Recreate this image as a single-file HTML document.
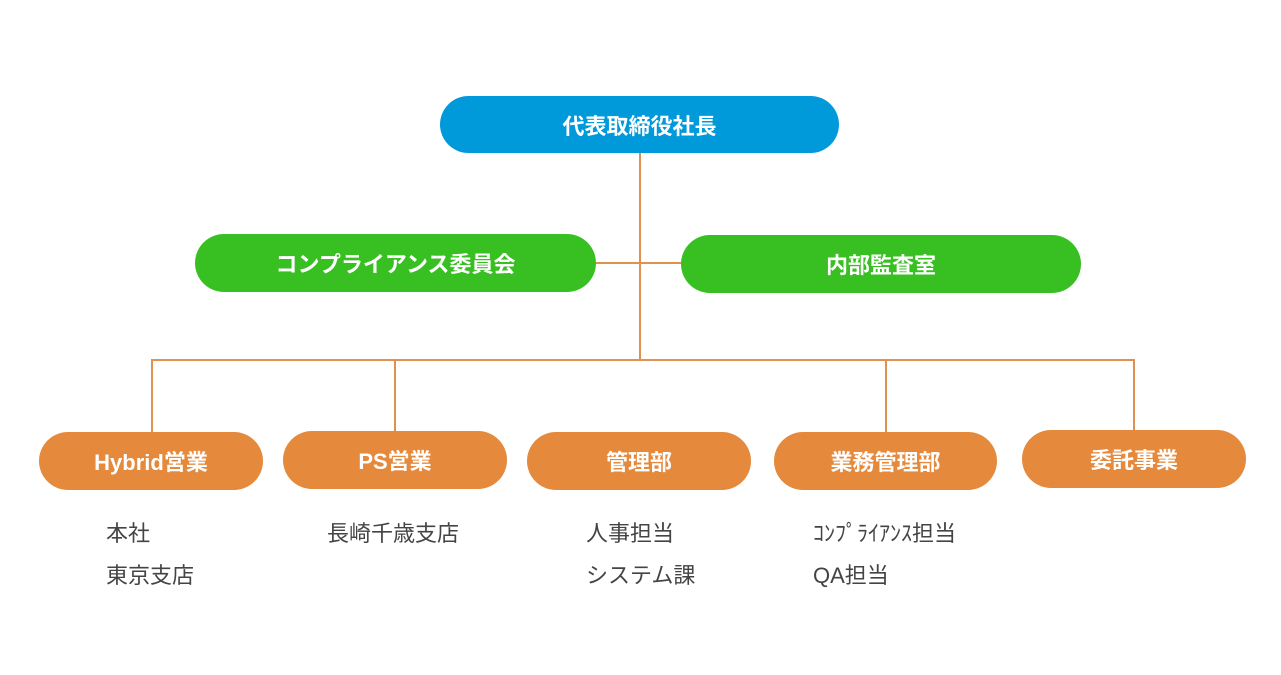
<!DOCTYPE html>
<html><head><meta charset="utf-8"><style>
body{margin:0;width:1281px;height:675px;background:#fff;position:relative;overflow:hidden;font-family:"Liberation Sans","Noto Sans CJK JP",sans-serif}
.b{position:absolute;border-radius:30px;color:#fff;font-weight:bold;font-size:22px;display:flex;align-items:center;justify-content:center}
.bl{background:#0099d9}.g{background:#38bf22}.o{background:#e58a3c}
.l{position:absolute;background:#e0914f}
.t{position:absolute;color:#444;font-size:22px;line-height:42px}
</style></head><body>
<div class="l" style="left:639px;top:150px;width:2px;height:211px"></div>
<div class="l" style="left:594px;top:262px;width:90px;height:2px"></div>
<div class="l" style="left:151px;top:359px;width:984px;height:2px"></div>
<div class="l" style="left:151px;top:359px;width:2px;height:76px"></div>
<div class="l" style="left:394px;top:359px;width:2px;height:75px"></div>
<div class="l" style="left:885px;top:359px;width:2px;height:76px"></div>
<div class="l" style="left:1133px;top:359px;width:2px;height:74px"></div>
<div class="b bl" style="left:440px;top:96px;width:399px;height:57px">代表取締役社長</div>
<div class="b g" style="left:195px;top:234px;width:401px;height:58px">コンプライアンス委員会</div>
<div class="b g" style="left:681px;top:235px;width:400px;height:58px">内部監査室</div>
<div class="b o" style="left:39px;top:432px;width:224px;height:58px">Hybrid営業</div>
<div class="b o" style="left:283px;top:431px;width:224px;height:58px">PS営業</div>
<div class="b o" style="left:527px;top:432px;width:224px;height:58px">管理部</div>
<div class="b o" style="left:774px;top:432px;width:223px;height:58px">業務管理部</div>
<div class="b o" style="left:1022px;top:430px;width:224px;height:58px">委託事業</div>
<div class="t" style="left:106px;top:513px">本社<br>東京支店</div>
<div class="t" style="left:327px;top:513px">長崎千歳支店</div>
<div class="t" style="left:586px;top:513px">人事担当<br>システム課</div>
<div class="t" style="left:813px;top:513px">ｺﾝﾌﾟﾗｲｱﾝｽ担当<br>QA担当</div>
</body></html>
